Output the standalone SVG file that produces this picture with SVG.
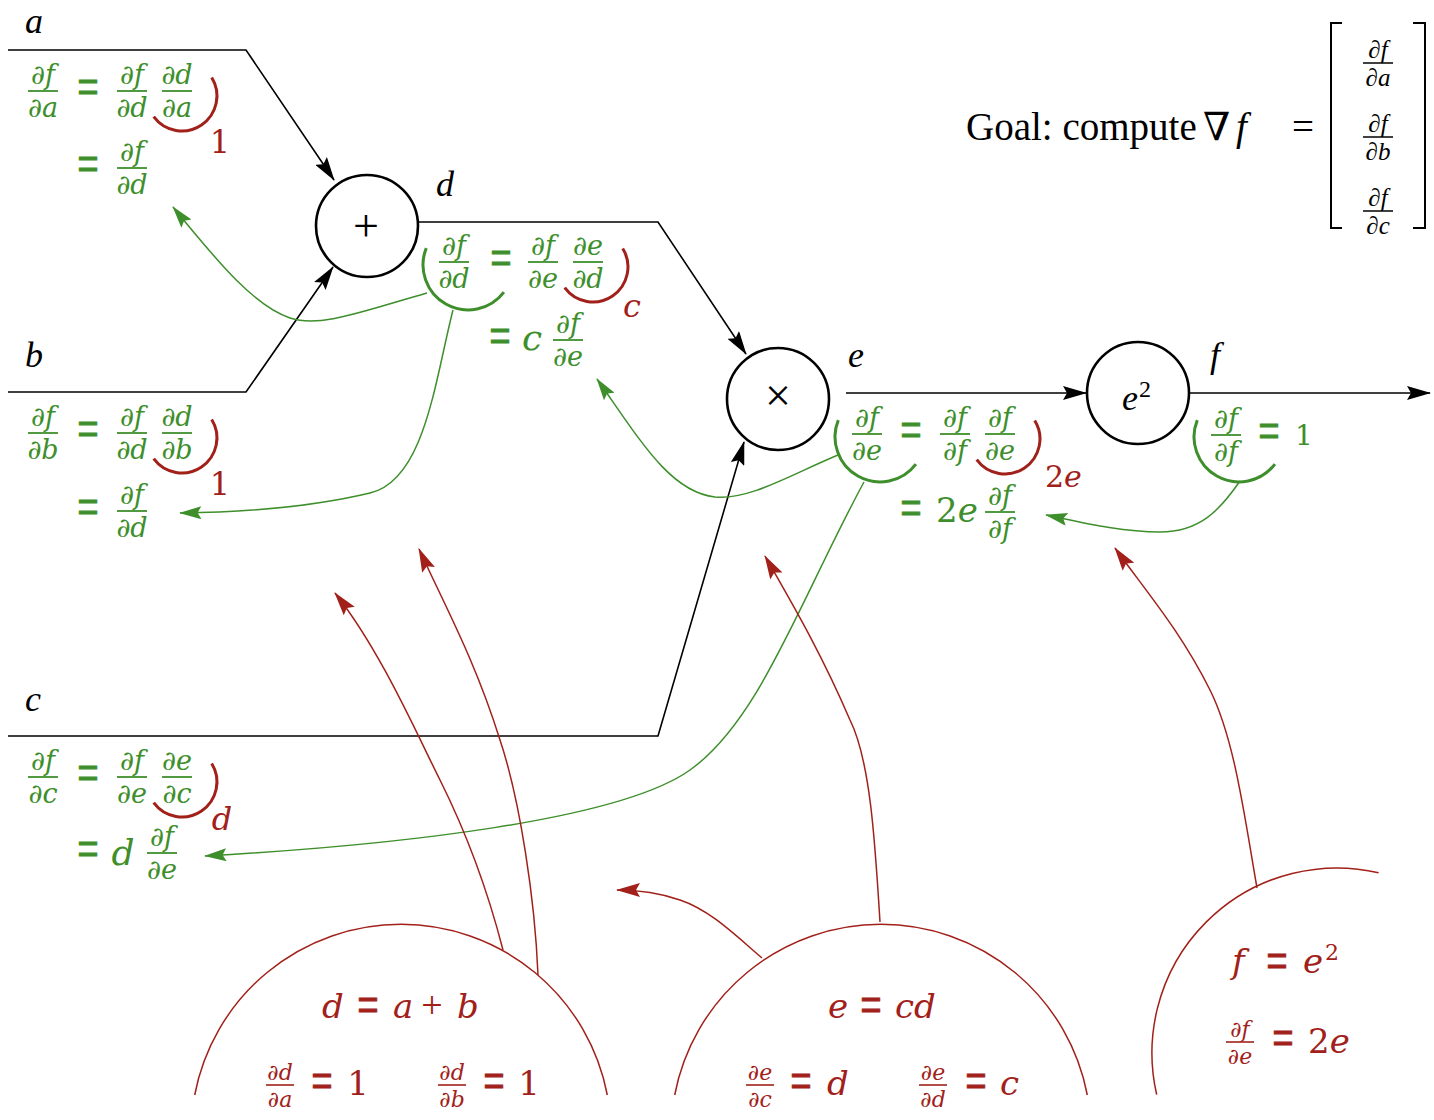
<svg xmlns="http://www.w3.org/2000/svg" width="1434" height="1120" viewBox="0 0 1434 1120">
<defs>
<marker id="ak" markerUnits="userSpaceOnUse" viewBox="0 0 24 14" markerWidth="24" markerHeight="14" refX="23" refY="7" orient="auto"><path d="M0,0 L24,7 L0,14 L4,7 Z" fill="#000"/></marker>
<marker id="ag" markerUnits="userSpaceOnUse" viewBox="0 0 24 14" markerWidth="24" markerHeight="13" refX="23" refY="7" orient="auto"><path d="M0,0 L24,7 L0,14 L4,7 Z" fill="#3e8f2c"/></marker>
<marker id="ar" markerUnits="userSpaceOnUse" viewBox="0 0 24 14" markerWidth="24" markerHeight="14" refX="23" refY="7" orient="auto"><path d="M0,0 L24,7 L0,14 L4,7 Z" fill="#a1211a"/></marker>
<style>
.wire{fill:none;stroke:#000;stroke-width:1.6}
.node{fill:#fff;stroke:#000;stroke-width:2.6}
.lbl{font-family:"Liberation Serif",serif;font-style:italic;font-size:36px;fill:#000}
.op{font-family:"Liberation Serif",serif;font-size:46px;fill:#000;text-anchor:middle}
.gl{fill:none;stroke:#3e8f2c;stroke-width:1.5}
.rl{fill:none;stroke:#a1211a;stroke-width:1.5}
.garc{fill:none;stroke:#3e8f2c;stroke-width:3}
.rarc{fill:none;stroke:#a1211a;stroke-width:3}
.G{fill:#3e8f2c}
.R{fill:#a1211a}
.m{font-family:"DejaVu Serif",serif;font-style:italic}
.n{font-family:"DejaVu Serif",serif;font-style:normal}
.fr{font-size:27px;text-anchor:middle}
.frs{font-size:22px;text-anchor:middle}
.eq{font-family:"Liberation Serif",serif;font-size:38px;text-anchor:middle;stroke-width:0.7}
.G.eq{stroke:#3e8f2c}
.R.eq{stroke:#a1211a}
.gb{stroke:#3e8f2c;stroke-width:1.8}
.rb{stroke:#a1211a;stroke-width:1.6}
.kb{stroke:#000;stroke-width:1.5}
.kf{font-family:"Liberation Serif",serif;font-style:italic;font-size:25px;text-anchor:middle;fill:#000}
</style>
</defs>
<rect width="1434" height="1120" fill="#fff"/>

<g id="connectors">
<path class="wire" d="M8,50 H246 L334,180" marker-end="url(#ak)"/>
<path class="wire" d="M8,392 H246 L333,267" marker-end="url(#ak)"/>
<path class="wire" d="M418,222 H658 L746,354" marker-end="url(#ak)"/>
<path class="wire" d="M8,736 H658 L744,442" marker-end="url(#ak)"/>
<path class="wire" d="M846,393 H1086" marker-end="url(#ak)"/>
<path class="wire" d="M1190,393 H1430" marker-end="url(#ak)"/>

<path class="gl" d="M427,293 C360,312 320,328 290,318 C255,306 220,265 173,207" marker-end="url(#ag)"/>
<path class="gl" d="M453,310 C435,380 425,480 370,493 C320,505 250,512 180,513" marker-end="url(#ag)"/>
<path class="gl" d="M838,455 C790,475 750,500 715,497 C670,492 640,440 597,379" marker-end="url(#ag)"/>
<path class="gl" d="M864,482 C800,600 760,720 690,770 C620,820 400,845 205,856" marker-end="url(#ag)"/>
<path class="gl" d="M1240,481 C1220,510 1200,532 1160,532 C1120,532 1080,522 1046,515" marker-end="url(#ag)"/>

<path class="rl" d="M503,950 C485,880 460,820 440,780 C415,730 380,650 335,593" marker-end="url(#ar)"/>
<path class="rl" d="M538,975 C535,900 520,800 500,740 C475,660 445,606 419,549" marker-end="url(#ar)"/>
<path class="rl" d="M762,958 C735,935 710,910 680,900 C660,893 640,890 617,890" marker-end="url(#ar)"/>
<path class="rl" d="M880,922 C875,840 870,760 850,720 C820,650 790,600 765,556" marker-end="url(#ar)"/>
<path class="rl" d="M1257,888 C1245,820 1235,740 1210,690 C1180,630 1145,590 1115,548" marker-end="url(#ar)"/>
</g>

<g id="input-a"><text class="lbl" x="25" y="33" font-size="30">a</text></g>
<g id="input-b"><text class="lbl" x="25" y="367">b</text></g>
<g id="input-c"><text class="lbl" x="25" y="711">c</text></g>

<g id="node-plus">
<circle class="node" cx="367" cy="226" r="51"/>
<text class="op" x="366" y="241">+</text>
<text class="lbl" x="436" y="196">d</text>
</g>
<g id="node-times">
<circle class="node" cx="778" cy="399" r="51"/>
<text class="op" x="778" y="411">×</text>
<text class="lbl" x="848" y="367">e</text>
</g>
<g id="node-square">
<circle class="node" cx="1138" cy="393" r="51"/>
<text class="lbl" x="1122" y="410" font-size="40">e</text>
<text x="1139" y="397" font-family="Liberation Serif, serif" font-size="24">2</text>
<text class="lbl" x="1210" y="367">f</text>
</g>

<g id="goal">
<text font-family="Liberation Serif, DejaVu Serif, serif" font-size="39" x="966" y="140">Goal: compute<tspan x="1203">∇</tspan><tspan x="1236" font-style="italic">f</tspan><tspan x="1292">=</tspan></text>
<path d="M1342,23 H1331 V228 H1342" fill="none" stroke="#000" stroke-width="2"/>
<path d="M1413,23 H1425 V228 H1413" fill="none" stroke="#000" stroke-width="2"/>
<g transform="translate(1378,63)"><text class="kf" y="-5">∂f</text><line class="kb" x1="-15" x2="15"/><text class="kf" y="23">∂a</text></g>
<g transform="translate(1378,137)"><text class="kf" y="-5">∂f</text><line class="kb" x1="-15" x2="15"/><text class="kf" y="23">∂b</text></g>
<g transform="translate(1378,211)"><text class="kf" y="-5">∂f</text><line class="kb" x1="-15" x2="15"/><text class="kf" y="23">∂c</text></g>
</g>

<g id="grad-a">
<g class="G m fr" transform="translate(43,91)"><text y="-7">∂f</text><line class="gb" x1="-15" x2="15"/><text y="26">∂a</text></g>
<text class="G eq" transform="translate(88,91) scale(1,1.5)" y="10">=</text>
<g class="G m fr" transform="translate(132,91)"><text y="-7">∂f</text><line class="gb" x1="-15" x2="15"/><text y="26">∂d</text></g>
<g class="G m fr" transform="translate(177,91)"><text y="-7">∂d</text><line class="gb" x1="-15" x2="15"/><text y="26">∂a</text></g>
<path class="rarc" d="M153.7,116.6 A35,35 0 0 0 211.7,77.5"/>
<text class="R n" x="220" y="153" font-size="32" text-anchor="middle">1</text>
<text class="G eq" transform="translate(88,168) scale(1,1.5)" y="10">=</text>
<g class="G m fr" transform="translate(132,168)"><text y="-7">∂f</text><line class="gb" x1="-15" x2="15"/><text y="26">∂d</text></g>
</g>

<g id="grad-b">
<g class="G m fr" transform="translate(43,433)"><text y="-7">∂f</text><line class="gb" x1="-15" x2="15"/><text y="26">∂b</text></g>
<text class="G eq" transform="translate(88,433) scale(1,1.5)" y="10">=</text>
<g class="G m fr" transform="translate(132,433)"><text y="-7">∂f</text><line class="gb" x1="-15" x2="15"/><text y="26">∂d</text></g>
<g class="G m fr" transform="translate(177,433)"><text y="-7">∂d</text><line class="gb" x1="-15" x2="15"/><text y="26">∂b</text></g>
<path class="rarc" d="M153.7,458.6 A35,35 0 0 0 211.7,419.5"/>
<text class="R n" x="220" y="495" font-size="32" text-anchor="middle">1</text>
<text class="G eq" transform="translate(88,511) scale(1,1.5)" y="10">=</text>
<g class="G m fr" transform="translate(132,511)"><text y="-7">∂f</text><line class="gb" x1="-15" x2="15"/><text y="26">∂d</text></g>
</g>

<g id="grad-c">
<g class="G m fr" transform="translate(43,777)"><text y="-7">∂f</text><line class="gb" x1="-15" x2="15"/><text y="26">∂c</text></g>
<text class="G eq" transform="translate(88,777) scale(1,1.5)" y="10">=</text>
<g class="G m fr" transform="translate(132,777)"><text y="-7">∂f</text><line class="gb" x1="-15" x2="15"/><text y="26">∂e</text></g>
<g class="G m fr" transform="translate(177,777)"><text y="-7">∂e</text><line class="gb" x1="-15" x2="15"/><text y="26">∂c</text></g>
<path class="rarc" d="M153.7,802.6 A35,35 0 0 0 211.7,763.5"/>
<text class="R m" x="222" y="830" font-size="32" text-anchor="middle">d</text>
<text class="G eq" transform="translate(88,853) scale(1,1.5)" y="10">=</text>
<text class="G m" x="123" y="865" font-size="36" text-anchor="middle">d</text>
<g class="G m fr" transform="translate(162,853)"><text y="-7">∂f</text><line class="gb" x1="-15" x2="15"/><text y="26">∂e</text></g>
</g>

<g id="grad-d">
<path class="garc" d="M426.3,248.1 A45,45 0 0 0 503.9,292.1"/>
<g class="G m fr" transform="translate(454,262)"><text y="-7">∂f</text><line class="gb" x1="-15" x2="15"/><text y="26">∂d</text></g>
<text class="G eq" transform="translate(501,262) scale(1,1.5)" y="10">=</text>
<g class="G m fr" transform="translate(543,262)"><text y="-7">∂f</text><line class="gb" x1="-15" x2="15"/><text y="26">∂e</text></g>
<g class="G m fr" transform="translate(588,262)"><text y="-7">∂e</text><line class="gb" x1="-15" x2="15"/><text y="26">∂d</text></g>
<path class="rarc" d="M564.7,287.6 A35,35 0 0 0 622.7,248.5"/>
<text class="R m" x="632" y="317" font-size="32" text-anchor="middle">c</text>
<text class="G eq" transform="translate(500,340) scale(1,1.5)" y="10">=</text>
<text class="G m" x="532" y="350" font-size="36" text-anchor="middle">c</text>
<g class="G m fr" transform="translate(568,340)"><text y="-7">∂f</text><line class="gb" x1="-15" x2="15"/><text y="26">∂e</text></g>
</g>

<g id="grad-e">
<path class="garc" d="M838.3,420.1 A45,45 0 0 0 915.9,464.1"/>
<g class="G m fr" transform="translate(867,434)"><text y="-7">∂f</text><line class="gb" x1="-15" x2="15"/><text y="26">∂e</text></g>
<text class="G eq" transform="translate(911,434) scale(1,1.5)" y="10">=</text>
<g class="G m fr" transform="translate(955,434)"><text y="-7">∂f</text><line class="gb" x1="-15" x2="15"/><text y="26">∂f</text></g>
<g class="G m fr" transform="translate(1000,434)"><text y="-7">∂f</text><line class="gb" x1="-15" x2="15"/><text y="26">∂e</text></g>
<path class="rarc" d="M976.7,459.6 A35,35 0 0 0 1034.7,420.5"/>
<text class="R n" x="1045" y="487" font-size="30">2<tspan class="m">e</tspan></text>
<text class="G eq" transform="translate(911,512) scale(1,1.5)" y="10">=</text>
<text class="G n" x="936" y="522" font-size="34">2<tspan class="m">e</tspan></text>
<g class="G m fr" transform="translate(1000,512)"><text y="-7">∂f</text><line class="gb" x1="-15" x2="15"/><text y="26">∂f</text></g>
</g>

<g id="grad-f">
<path class="garc" d="M1197.3,420.1 A45,45 0 0 0 1274.9,464.1"/>
<g class="G m fr" transform="translate(1226,435)"><text y="-7">∂f</text><line class="gb" x1="-15" x2="15"/><text y="26">∂f</text></g>
<text class="G eq" transform="translate(1269,435) scale(1,1.5)" y="10">=</text>
<text class="G n" x="1304" y="445" font-size="28" text-anchor="middle">1</text>
</g>

<g id="def-d">
<path class="rl" d="M194.7,1095 A210,210 0 0 1 607.3,1095"/>
<text class="R m" x="322" y="1018" font-size="34">d</text>
<text class="R eq" transform="translate(368,1009) scale(1,1.5)" y="10">=</text>
<text class="R m" x="393" y="1018" font-size="34">a</text>
<text class="R" x="432" y="1018" font-family="Liberation Serif, serif" font-size="38" text-anchor="middle">+</text>
<text class="R m" x="457" y="1018" font-size="34">b</text>
<g class="R m frs" transform="translate(280,1085)"><text y="-5">∂d</text><line class="rb" x1="-14" x2="14"/><text y="22">∂a</text></g>
<text class="R eq" transform="translate(322,1085) scale(1,1.5)" y="10">=</text>
<text class="R n" x="358" y="1095" font-size="34" text-anchor="middle">1</text>
<g class="R m frs" transform="translate(452,1085)"><text y="-5">∂d</text><line class="rb" x1="-14" x2="14"/><text y="22">∂b</text></g>
<text class="R eq" transform="translate(494,1085) scale(1,1.5)" y="10">=</text>
<text class="R n" x="529" y="1095" font-size="34" text-anchor="middle">1</text>
</g>

<g id="def-e">
<path class="rl" d="M674.7,1095 A210,210 0 0 1 1087.3,1095"/>
<text class="R m" x="828" y="1018" font-size="34">e</text>
<text class="R eq" transform="translate(871,1009) scale(1,1.5)" y="10">=</text>
<text class="R m" x="895" y="1018" font-size="34">cd</text>
<g class="R m frs" transform="translate(760,1085)"><text y="-5">∂e</text><line class="rb" x1="-14" x2="14"/><text y="22">∂c</text></g>
<text class="R eq" transform="translate(801,1085) scale(1,1.5)" y="10">=</text>
<text class="R m" x="827" y="1095" font-size="34">d</text>
<g class="R m frs" transform="translate(933,1085)"><text y="-5">∂e</text><line class="rb" x1="-14" x2="14"/><text y="22">∂d</text></g>
<text class="R eq" transform="translate(976,1085) scale(1,1.5)" y="10">=</text>
<text class="R m" x="1000" y="1095" font-size="34">c</text>
</g>

<g id="def-f">
<path class="rl" d="M1156.7,1094.6 A185,185 0 0 1 1378.6,872.7"/>
<text class="R m" x="1232" y="973" font-size="34">f</text>
<text class="R eq" transform="translate(1277,965) scale(1,1.5)" y="10">=</text>
<text class="R m" x="1303" y="973" font-size="34">e</text>
<text class="R n" x="1325" y="960" font-size="22">2</text>
<g class="R m frs" transform="translate(1240,1042)"><text y="-5">∂f</text><line class="rb" x1="-14" x2="14"/><text y="22">∂e</text></g>
<text class="R eq" transform="translate(1283,1042) scale(1,1.5)" y="10">=</text>
<text class="R n" x="1308" y="1053" font-size="34">2<tspan class="m">e</tspan></text>
</g>
</svg>
